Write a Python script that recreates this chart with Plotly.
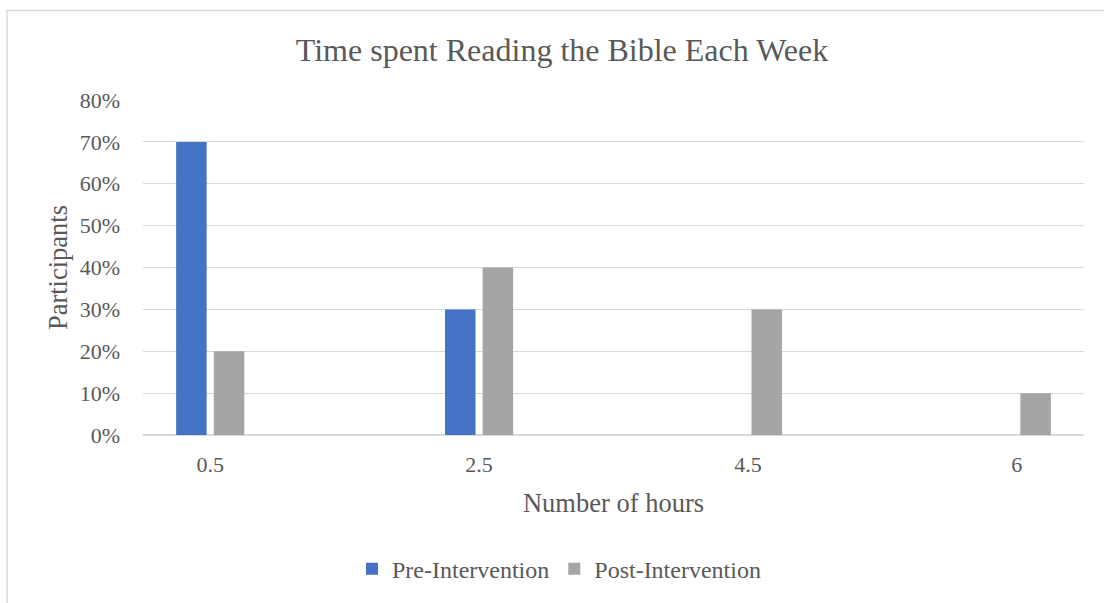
import plotly.graph_objects as go

categories = ["0.5", "2.5", "4.5", "6"]
pre_values = [0.70, 0.30, 0.0, 0.0]
post_values = [0.20, 0.40, 0.30, 0.10]
y_ticks = [0, 0.1, 0.2, 0.3, 0.4, 0.5, 0.6, 0.7, 0.8]

FONT = "Liberation Serif, Times New Roman, serif"
TXT = "#595959"
GRID = "#d9d9d9"

W, H = 1104, 603
L, R, T, B = 143, 20, 100, 166
pw = W - L - R
ph = H - T - B

x_idx = list(range(len(categories)))

fig = go.Figure()
fig.add_trace(go.Bar(x=x_idx, y=pre_values, name="Pre-Intervention",
                     marker=dict(color="#4472c4", line=dict(width=0))))
fig.add_trace(go.Bar(x=x_idx, y=post_values, name="Post-Intervention",
                     marker=dict(color="#a5a5a5", line=dict(width=0))))

# outer chart border
fig.add_shape(type="rect", xref="paper", yref="paper",
              x0=(7 - L) / pw, x1=(W + 10 - L) / pw,
              y0=(H - B - (H + 10)) / ph, y1=(H - B - 10) / ph,
              line=dict(color=GRID, width=1.5), fillcolor="rgba(0,0,0,0)", layer="below")

fig.update_layout(
    width=W, height=H,
    margin=dict(l=L, r=R, t=T, b=B),
    paper_bgcolor="white", plot_bgcolor="white",
    barmode="group", bargap=0.72, bargroupgap=0.19,
    font=dict(family=FONT, color=TXT, size=22),
    title=dict(text="Time spent Reading the Bible Each Week", x=562 / W, xanchor="center",
               y=1 - 50 / H, yanchor="middle",
               font=dict(family=FONT, size=32, color=TXT)),
    xaxis=dict(range=[-0.25, 3.25], tickmode="array", tickvals=x_idx, ticktext=categories,
               showgrid=False, zeroline=False, showline=False, ticks="",
               ticklabelstandoff=14,
               tickfont=dict(size=22, color=TXT),
               title=dict(text="Number of hours", font=dict(size=26.5, color=TXT), standoff=17)),
    yaxis=dict(range=[0, 0.8], tickmode="array", tickvals=y_ticks, tickformat=".0%",
               showgrid=True, gridcolor=GRID, gridwidth=1.2, zeroline=True, zerolinecolor=GRID,
               zerolinewidth=1.5, showline=False, ticks="", ticklabelstandoff=22,
               tickfont=dict(size=22, color=TXT),
               title=dict(text="Participants", font=dict(size=26.5, color=TXT), standoff=4)),
    legend=dict(orientation="h", x=(559 - L) / pw, xanchor="center", y=(H - B - 572) / ph,
                yanchor="middle", font=dict(size=24, color=TXT), itemwidth=30,
                traceorder="normal"),
    showlegend=True,
)

fig.write_html("out.html")
